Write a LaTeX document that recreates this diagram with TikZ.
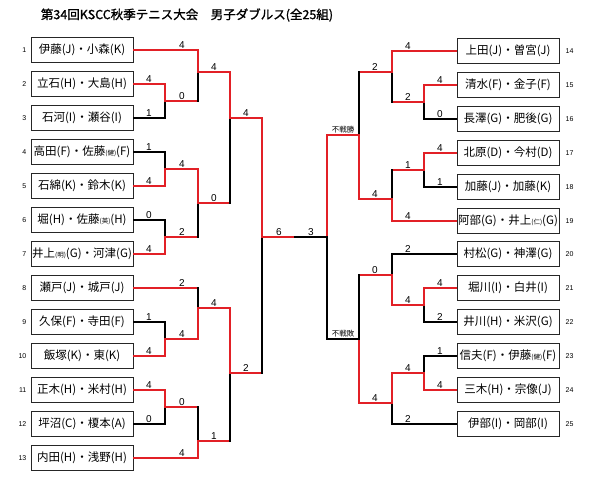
\documentclass[tikz,border=0pt]{standalone}
\usepackage{fontspec}
\setmainfont{Liberation Sans}
\newfontfamily\jp{Noto Sans CJK JP}
\newfontfamily\jpbold{Noto Sans CJK JP}[FakeBold=1.3]
\usetikzlibrary{positioning,calc}
\definecolor{winred}{RGB}{226,32,38}

% small note inside a pair name, e.g. (健)
\newcommand{\smallnote}[1]{{\fontsize{6.5}{7}\selectfont(#1)}}
\newcommand{\byetext}{\jp\fontsize{7.5}{8}\selectfont}
% from, junction, horizontal style, vertical style, score, label shift
\newcommand{\feedline}[6]{%
  \draw[#3] (#1) -- (#1 -| #2);
  \draw[#4] (#1 -| #2) -- (#2);
  \node[score] (s-#1-#2) at ($(#1 -| #2)+(#6,0)$) {#5};}

\begin{document}
\begin{tikzpicture}[
    x=1pt, y=-1pt,
    pair/.style={draw=black!85, line width=1pt, minimum width=102pt, minimum height=25pt,
                 inner sep=0pt, font=\jp\fontsize{11.5}{12}\selectfont},
    idx/.style={inner sep=0pt, font=\fontsize{7}{7}\selectfont},
    score/.style={anchor=south, inner sep=1.5pt, font=\fontsize{10}{10}\selectfont},
    heading/.style={font=\jpbold\fontsize{12.5}{14}\selectfont},
    win/.style={draw=winred, line width=1.1pt, line cap=rect},
    lose/.style={draw=black, line width=1.1pt, line cap=rect}
]
\useasboundingbox[fill=white] (0,0) rectangle (589,480);
\node[heading] (title) at (187,15) {第34回KSCC秋季テニス大会\hspace{1em}男子ダブルス(全25組)};

% left half
\node[pair] (t1) at (82,50) {伊藤(J)・小森(K)};
\node[pair] (t2) at (82,84) {立石(H)・大島(H)};
\node[pair] (t3) at (82,118) {石河(I)・瀬谷(I)};
\node[pair] (t4) at (82,152) {高田(F)・佐藤\smallnote{健}(F)};
\node[pair] (t5) at (82,186) {石綿(K)・鈴木(K)};
\node[pair] (t6) at (82,220) {堀(H)・佐藤\smallnote{英}(H)};
\node[pair] (t7) at (82,254) {井上\smallnote{明}(G)・河津(G)};
\node[pair] (t8) at (82,288) {瀬戸(J)・城戸(J)};
\node[pair] (t9) at (82,322) {久保(F)・寺田(F)};
\node[pair] (t10) at (82,356) {飯塚(K)・東(K)};
\node[pair] (t11) at (82,390) {正木(H)・米村(H)};
\node[pair] (t12) at (82,424) {坪沼(C)・榎本(A)};
\node[pair] (t13) at (82,458) {内田(H)・浅野(H)};

% right half
\node[pair] (t14) at (508,51) {上田(J)・曽宮(J)};
\node[pair] (t15) at (508,85) {清水(F)・金子(F)};
\node[pair] (t16) at (508,119) {長澤(G)・肥後(G)};
\node[pair] (t17) at (508,153) {北原(D)・今村(D)};
\node[pair] (t18) at (508,187) {加藤(J)・加藤(K)};
\node[pair] (t19) at (508,221) {阿部(G)・井上\smallnote{仁}(G)};
\node[pair] (t20) at (508,254) {村松(G)・神澤(G)};
\node[pair] (t21) at (508,288) {堀川(I)・白井(I)};
\node[pair] (t22) at (508,322) {井川(H)・米沢(G)};
\node[pair] (t23) at (508,356) {信夫(F)・伊藤\smallnote{健}(F)};
\node[pair] (t24) at (508,390) {三木(H)・宗像(J)};
\node[pair] (t25) at (508,424) {伊部(I)・岡部(I)};

\foreach \i in {1,...,13} \node[idx, left=4pt of t\i] (n\i) {\i};
\foreach \i in {14,...,25} \node[idx, right=6pt of t\i] (n\i) {\i};

% match points
\coordinate (jA) at (165,101);
\coordinate (jB) at (198,72);
\coordinate (jC) at (165,169);
\coordinate (jD) at (165,237);
\coordinate (jE) at (198,203);
\coordinate (jF) at (230,118);
\coordinate (jG) at (165,339);
\coordinate (jH) at (198,308);
\coordinate (jI) at (165,407);
\coordinate (jJ) at (198,441);
\coordinate (jK) at (230,373);
\coordinate (jL) at (262,237);
\coordinate (jM) at (424,102);
\coordinate (jN) at (392,72);
\coordinate (jO) at (424,170);
\coordinate (jP) at (392,199);
\coordinate (jQ) at (359,135);
\coordinate (jR) at (424,305);
\coordinate (jS) at (392,275);
\coordinate (jT) at (424,373);
\coordinate (jU) at (392,403);
\coordinate (jV) at (359,339);
\coordinate (jW) at (327,237);
\coordinate (mid) at (295,237);

% left bracket
\feedline{t1}{jB}{win}{win}{4}{-16}
\feedline{t2}{jA}{win}{win}{4}{-16}
\feedline{t3}{jA}{lose}{lose}{1}{-16}
\feedline{jA}{jB}{win}{lose}{0}{-16}
\feedline{jB}{jF}{win}{win}{4}{-16}
\feedline{t4}{jC}{lose}{lose}{1}{-16}
\feedline{t5}{jC}{win}{win}{4}{-16}
\feedline{t6}{jD}{lose}{lose}{0}{-16}
\feedline{t7}{jD}{win}{win}{4}{-16}
\feedline{jC}{jE}{win}{win}{4}{-16}
\feedline{jD}{jE}{win}{lose}{2}{-16}
\feedline{jE}{jF}{win}{lose}{0}{-16}
\feedline{jF}{jL}{win}{win}{4}{-16}
\feedline{t8}{jH}{win}{lose}{2}{-16}
\feedline{t9}{jG}{lose}{lose}{1}{-16}
\feedline{t10}{jG}{win}{win}{4}{-16}
\feedline{jG}{jH}{win}{win}{4}{-16}
\feedline{t11}{jI}{win}{win}{4}{-16}
\feedline{t12}{jI}{lose}{lose}{0}{-16}
\feedline{jI}{jJ}{win}{lose}{0}{-16}
\feedline{t13}{jJ}{win}{win}{4}{-16}
\feedline{jH}{jK}{win}{win}{4}{-16}
\feedline{jJ}{jK}{win}{lose}{1}{-16}
\feedline{jK}{jL}{win}{lose}{2}{-16}

% right bracket
\feedline{t14}{jN}{win}{win}{4}{16}
\feedline{t15}{jM}{win}{win}{4}{16}
\feedline{t16}{jM}{lose}{lose}{0}{16}
\feedline{jM}{jN}{win}{lose}{2}{16}
\feedline{jN}{jQ}{win}{lose}{2}{16}
\feedline{t17}{jO}{win}{win}{4}{16}
\feedline{t18}{jO}{lose}{lose}{1}{16}
\feedline{jO}{jP}{win}{lose}{1}{16}
\feedline{t19}{jP}{win}{win}{4}{16}
\feedline{jP}{jQ}{win}{win}{4}{16}
\feedline{jQ}{jW}{win}{win}{\byetext 不戦勝}{16}
\feedline{t20}{jS}{lose}{lose}{2}{16}
\feedline{t21}{jR}{win}{win}{4}{16}
\feedline{t22}{jR}{lose}{lose}{2}{16}
\feedline{jR}{jS}{win}{win}{4}{16}
\feedline{jS}{jV}{win}{lose}{0}{16}
\feedline{t23}{jT}{lose}{lose}{1}{16}
\feedline{t24}{jT}{win}{win}{4}{16}
\feedline{t25}{jU}{lose}{lose}{2}{16}
\feedline{jT}{jU}{win}{win}{4}{16}
\feedline{jU}{jV}{win}{win}{4}{16}
\feedline{jV}{jW}{lose}{lose}{\byetext 不戦敗}{16}

% final
\draw[win] (jL) -- (mid);
\draw[lose] (mid) -- (jW);
\node[score] (s-final-l) at ($(jL)+(17,0)$) {6};
\node[score] (s-final-r) at ($(jW)+(-16,0)$) {3};
\end{tikzpicture}
\end{document}
